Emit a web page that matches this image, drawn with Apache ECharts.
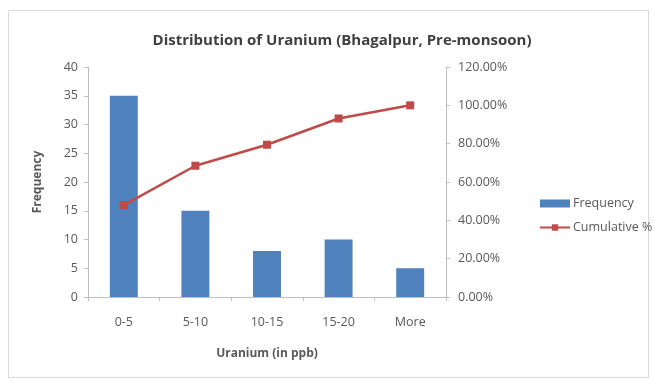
<!DOCTYPE html>
<html>
<head>
<meta charset="utf-8">
<script src="https://cdn.jsdelivr.net/npm/echarts@6/dist/echarts.min.js"></script>
<style>
  html, body { margin: 0; padding: 0; background: #fff; }
  #chart { width: 654px; height: 382px; }
</style>
</head>
<body>
<div id="chart"></div>
<script>
// Uranium concentration bins (ppb)
const categories = ['0-5', '5-10', '10-15', '15-20', 'More'];
// Number of samples per bin
const frequency = [35, 15, 8, 10, 5];
// Cumulative share of samples, in percent
const cumulativePct = [47.95, 68.49, 79.45, 93.15, 100.00];
// Axis tick settings
const freqTicks = { min: 0, max: 40, interval: 5 };
const pctTicks = { min: 0, max: 120, interval: 20 };

const FONT = '"Open Sans", "Liberation Sans", sans-serif';
const labelColor = '#595959';
const axisLineColor = '#bfbfbf';
const LABEL_SIZE = 12.5;

const chart = echarts.init(document.getElementById('chart'), null, { renderer: 'canvas' });

chart.setOption({
  animation: false,
  backgroundColor: '#fff',
  graphic: [{
    type: 'rect',
    shape: { x: 8.5, y: 10.5, width: 640, height: 367 },
    style: { fill: 'none', stroke: '#d9d9d9', lineWidth: 1 },
    silent: true
  }],
  title: {
    text: 'Distribution of Uranium (Bhagalpur, Pre-monsoon)',
    left: 337, top: 28, textAlign: 'center',
    textStyle: { fontFamily: FONT, fontSize: 15, fontWeight: 'bold', color: '#404040' }
  },
  legend: {
    orient: 'vertical',
    left: 534, top: 192,
    itemGap: 11,
    itemWidth: 30, itemHeight: 8,
    textStyle: { fontFamily: FONT, fontSize: LABEL_SIZE, color: labelColor, padding: [0, 0, 0, -2] },
    data: [
      { name: 'Frequency', icon: 'rect' },
      { name: 'Cumulative %' }
    ]
  },
  grid: { left: 88, right: 208, top: 67, bottom: 85, containLabel: false },
  xAxis: {
    type: 'category',
    data: categories,
    name: 'Uranium (in ppb)',
    nameLocation: 'middle',
    nameGap: 51,
    nameTextStyle: { fontFamily: FONT, fontSize: 12, fontWeight: 'bold', color: labelColor },
    axisLine: { lineStyle: { color: axisLineColor } },
    axisTick: { show: true, alignWithLabel: false, length: 4, lineStyle: { color: axisLineColor } },
    axisLabel: { fontFamily: FONT, fontSize: LABEL_SIZE, color: labelColor, margin: 19 }
  },
  yAxis: [{
    type: 'value',
    min: freqTicks.min, max: freqTicks.max, interval: freqTicks.interval,
    name: 'Frequency',
    nameLocation: 'middle',
    nameGap: 44,
    nameRotate: 90,
    nameTextStyle: { fontFamily: FONT, fontSize: 12, fontWeight: 'bold', color: labelColor },
    splitLine: { show: false },
    axisLine: { show: true, lineStyle: { color: axisLineColor } },
    axisTick: { show: true, length: 4, lineStyle: { color: axisLineColor } },
    axisLabel: { fontFamily: FONT, fontSize: LABEL_SIZE, color: labelColor, margin: 10 }
  }, {
    type: 'value',
    min: pctTicks.min, max: pctTicks.max, interval: pctTicks.interval,
    position: 'right',
    splitLine: { show: false },
    axisLine: { show: true, lineStyle: { color: axisLineColor } },
    axisTick: { show: true, length: 4, lineStyle: { color: axisLineColor } },
    axisLabel: {
      fontFamily: FONT, fontSize: LABEL_SIZE, color: labelColor, margin: 12,
      formatter: v => v.toFixed(2) + '%'
    }
  }],
  series: [{
    name: 'Frequency',
    type: 'bar',
    data: frequency,
    barWidth: '39%',
    itemStyle: { color: '#4F81BD' }
  }, {
    name: 'Cumulative %',
    type: 'line',
    yAxisIndex: 1,
    data: cumulativePct,
    symbol: 'rect',
    symbolSize: 8,
    lineStyle: { color: '#BE4B48', width: 2.5 },
    itemStyle: { color: '#BE4B48' }
  }]
});
</script>
</body>
</html>
